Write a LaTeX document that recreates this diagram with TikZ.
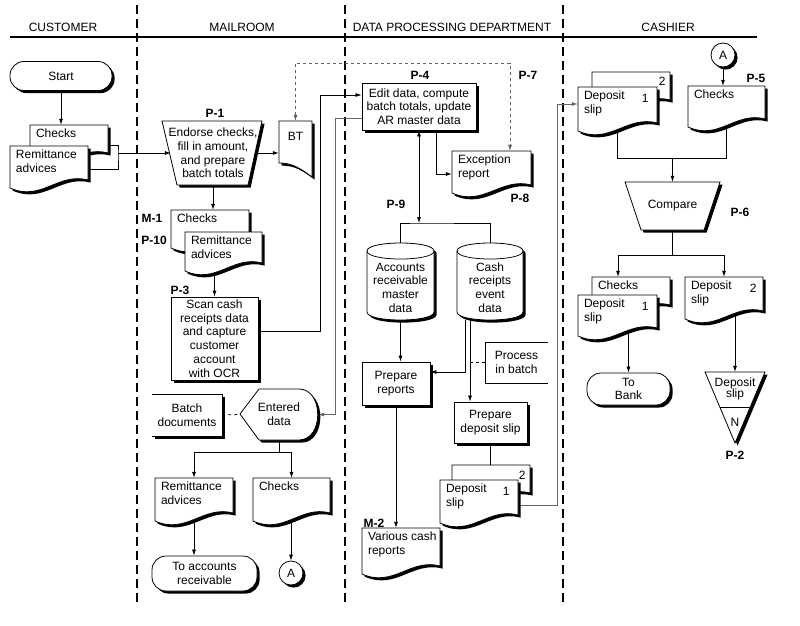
\documentclass[tikz,border=0pt]{standalone}
\usepackage{fontspec}
\setmainfont{Liberation Sans}
\usetikzlibrary{arrows.meta,shadows}
\pgfdeclarelayer{bg}
\pgfsetlayers{bg,main}
\newcommand{\chartfont}{\fontsize{12}{13.7}\selectfont}
\tikzset{
  flowbox/.style={draw, fill=white, line width=0.8pt, drop shadow={shadow xshift=2.6pt,shadow yshift=-2.6pt,fill=black,opacity=1}},
  procbox/.style={flowbox, inner sep=0pt, align=center},
  termbox/.style={procbox, rounded corners=14pt},
  spot/.style={inner sep=0pt, align=center},
  doctext/.style={anchor=north west, inner xsep=6pt, inner ysep=4pt, align=left},
  tag/.style={font=\chartfont\bfseries},
  lane/.style={line width=1.4pt, dash pattern=on 9pt off 5pt},
  arr/.style={line width=0.75pt, -{Latex[length=6pt,width=4pt]}},
  arrboth/.style={line width=0.75pt, {Latex[length=6pt,width=4pt]}-{Latex[length=6pt,width=4pt]}},
  link/.style={line width=0.75pt},
}
\newcommand{\flowdoc}[6]{%
  \draw[flowbox] (#2,#3) -- (#2+#4,#3) -- (#2+#4,#3+#5-12) .. controls (#2+0.62*#4,#3+#5-20) and (#2+0.4*#4,#3+#5+10) .. (#2,#3+#5-4) -- cycle;
  \node[spot, minimum width=#4, minimum height=#5] (#1) at (#2+0.5*#4,#3+0.5*#5) {};
  \node[doctext] (#1text) at (#1.north west) {#6};}
\newcommand{\flowdisk}[6]{%
  \draw[flowbox] (#2,#3+8) -- (#2,#3+#5-8) .. controls (#2,#3+#5+2.67) and (#2+#4,#3+#5+2.67) .. (#2+#4,#3+#5-8) -- (#2+#4,#3+8) .. controls (#2+#4,#3-2.67) and (#2,#3-2.67) .. (#2,#3+8) -- cycle;
  \draw[link] (#2,#3+8) .. controls (#2,#3+18.67) and (#2+#4,#3+18.67) .. (#2+#4,#3+8);
  \node[spot, minimum width=#4, minimum height=#5] (#1) at (#2+0.5*#4,#3+0.5*#5) {};
  \node[spot] (#1text) at ([yshift=-6pt]#1.center) {#6};}
\begin{document}
\begin{tikzpicture}[x=1pt, y=-1pt, font=\chartfont]
        \useasboundingbox (0,0) rectangle (800,626);
        \node (hcust) at (63,27) {CUSTOMER};
        \node (hmail) at (242,27) {MAILROOM};
        \node (hdata) at (452,27) {DATA PROCESSING DEPARTMENT};
        \node (hcash) at (668,27) {CASHIER};

        \node[termbox, minimum width=102, minimum height=29] (start) at (61,76) {Start};
        \flowdoc{custchk}{30}{125}{78}{40}{Checks}
        \flowdoc{custrem}{10}{146}{78}{46}{Remittance\\advices}

        \draw[flowbox] (162,121) -- (262,121) -- (248,185) -- (177,185) -- cycle;
        \node[spot, minimum width=100, minimum height=64] (p1) at (213,153) {Endorse checks,\\fill in amount,\\and prepare\\batch totals};
        \draw[flowbox] (279,121) -- (312,121) -- (312,177) .. controls (300,168) and (292,163) .. (279,163) -- cycle;
        \node[spot, minimum width=33, minimum height=56] (bt) at (295.5,149) {};
        \node (bttext) at (295.5,136) {BT};
        \flowdoc{mchk}{171}{210}{78}{42}{Checks}
        \flowdoc{mrem}{185}{232}{77}{43}{Remittance\\advices}
        \node[procbox, minimum width=87, minimum height=83] (p3) at (214.5,338.5) {Scan cash\\receipts data\\and capture\\customer\\account\\with OCR};
        \draw[flowbox] (152,394) -- (222,394) -- (222,436) -- (152,436);
        \node[spot, minimum width=70, minimum height=42] (batchnote) at (187,415) {Batch\\documents};
        \draw[flowbox] (240,414) -- (259,389) -- (299,389) .. controls (324,389) and (324,440) .. (299,440) -- (259,440) -- cycle;
        \node[spot, minimum width=78, minimum height=51] (ent) at (279,414.5) {Entered\\data};
        \flowdoc{remdoc}{155}{478}{78}{47}{Remittance\\advices}
        \flowdoc{chkdoc}{253}{478}{77}{47}{Checks}
        \node[termbox, minimum width=105, minimum height=35] (toar) at (204.5,573.5) {To accounts\\receivable};
        \node[flowbox, circle, minimum size=24, inner sep=0pt] (conA) at (291,573) {A};

        \node[procbox, minimum width=114, minimum height=47] (p4) at (419,106.5) {Edit data, compute\\batch totals, update\\AR master data};
        \flowdoc{exc}{452}{151}{79}{46}{Exception\\report}
        \flowdisk{ardb}{367}{243}{67}{77}{Accounts\\receivable\\master\\data}
        \flowdisk{crdb}{457}{243}{66}{77}{Cash\\receipts\\event\\data}
        \node[procbox, minimum width=68, minimum height=43] (prep) at (396,383.5) {Prepare\\reports};
        \draw[line width=0.8pt] (548,342) -- (485,342) -- (485,383) -- (548,383);
        \node[spot, minimum width=63, minimum height=41] (procnote) at (516.5,362.5) {Process\\in batch};
        \node[procbox, minimum width=73, minimum height=41] (dep) at (490.5,422.5) {Prepare\\deposit slip};
        \flowdoc{depback}{452}{465}{78}{40}{}
        \node (depbacknum) at ([xshift=-8pt,yshift=-11pt]depback.north east) {2};
        \flowdoc{depfront}{440}{480}{78}{47}{Deposit\\slip}
        \node (depfrontnum) at ([xshift=-12pt,yshift=-12pt]depfront.north east) {1};
        \flowdoc{various}{362}{528}{78}{50}{Various cash\\reports}

        \node[flowbox, circle, minimum size=24, inner sep=0pt] (conB) at (723,55) {A};
        \flowdoc{cashback}{592}{72}{78}{40}{}
        \node (cashbacknum) at ([xshift=-8pt,yshift=-10pt]cashback.north east) {2};
        \flowdoc{cashfront}{578}{87}{79}{48}{Deposit\\slip}
        \node (cashfrontnum) at ([xshift=-12pt,yshift=-12pt]cashfront.north east) {1};
        \flowdoc{cashchk}{688}{86}{77}{45}{Checks}
        \draw[flowbox] (625,182) -- (720,182) -- (704,230) -- (641,230) -- cycle;
        \node[spot, minimum width=95, minimum height=48] (cmp) at (672.5,206) {Compare};
        \flowdoc{bankback}{592}{277}{78}{40}{Checks}
        \flowdoc{bankfront}{578}{295}{79}{45}{Deposit\\slip}
        \node (bankfrontnum) at ([xshift=-12pt,yshift=-12pt]bankfront.north east) {1};
        \flowdoc{dep2}{685}{277}{78}{46}{Deposit\\slip}
        \node (dep2num) at ([xshift=-10pt,yshift=-12pt]dep2.north east) {2};
        \node[termbox, minimum width=83, minimum height=32] (tobank) at (628.5,389) {To\\Bank};
        \draw[flowbox] (705,372) -- (765,372) -- (735,443) -- cycle;
        \draw[line width=0.8pt] (720,407) -- (750,407);
        \node[spot, minimum width=60, minimum height=71] (file) at (735,407.5) {};
        \node[align=center] (filetext) at (735,389) {Deposit\\[-2pt]slip};
        \node (fileN) at (735,422) {N};

        \node[tag] (tagP1) at (215,113) {P-1};
        \node[tag] (tagM1) at (152,218) {M-1};
        \node[tag] (tagP10) at (154,240) {P-10};
        \node[tag] (tagP3) at (180,290) {P-3};
        \node[tag] (tagP4) at (420,75) {P-4};
        \node[tag] (tagP7) at (528,75) {P-7};
        \node[tag] (tagP8) at (520,198) {P-8};
        \node[tag] (tagP9) at (396,204) {P-9};
        \node[tag] (tagM2) at (374,523) {M-2};
        \node[tag] (tagP5) at (756,78) {P-5};
        \node[tag] (tagP6) at (740,212) {P-6};
        \node[tag] (tagP2) at (735,455) {P-2};

        \coordinate (custjoin) at (118,153);
        \coordinate (p7top) at (510,63);
        \coordinate (dpbus) at (320,95);
        \coordinate (erbus) at (335,118);
        \coordinate (dbbus) at (419,223);
        \coordinate (crlink) at (465,372);
        \coordinate (crdown) at (470,362.5);
        \coordinate (cashbus) at (557,104);
        \coordinate (entsplit) at (279,452);
        \coordinate (mergept) at (672.5,158);
        \coordinate (cmpsplit) at (672.5,255);

        \begin{pgfonlayer}{bg}
        \draw[line width=1.5pt] (10,37) -- (757,37);
        \draw[lane] (137,5) -- (137,606);
        \draw[lane] (345,5) -- (345,606);
        \draw[lane] (563,5) -- (563,606);
        \draw[arr] (start.south) -- (start.south |- custchk.north);
        \draw[link] (custchk.east) -| (custjoin) |- (custrem.east);
        \draw[arr] (custjoin) -- ([xshift=8pt]p1.west);
        \draw[arr] ([xshift=-7pt]p1.east) -- (bt.west |- p1.east);
        \draw[arrboth, dashed, gray!75!black] (bt.north) |- (p7top) -- (p7top |- exc.north);
        \draw[arr] (p1.south) -- (p1.south |- mchk.north);
        \draw[arr] (p3.north |- mrem.center) -- (p3.north);
        \draw[arr] ([yshift=7pt]p3.east) -| (dpbus) -- (dpbus -| p4.west);
        \draw[arr, gray!80!black] (erbus -| p4.west) -- (erbus) |- (ent.east);
        \draw[link, dashed] (batchnote.east) -- (ent.west);
        \draw[link] (ent.south) -- (entsplit);
        \draw[arr] (entsplit) -| (remdoc.north);
        \draw[arr] (entsplit) -| (chkdoc.north);
        \draw[arr] (remdoc.center) -- (remdoc.center |- toar.north);
        \draw[arr] (conA.north |- chkdoc.center) -- (conA.north);
        \draw[arr] ([xshift=17pt]p4.south) |- (exc.west);
        \draw[arrboth] (p4.south) -- (dbbus);
        \draw[link] (ardb.north) |- (dbbus) -| (crdb.north);
        \draw[arr] (ardb.south) -- (ardb.south |- prep.north);
        \draw[arr] (crlink |- crdb.south) -- (crlink) -- (crlink -| prep.east);
        \draw[arr] (crdown |- crdb.south) -- (crdown |- dep.north);
        \draw[link, dashed] (procnote.west) -- (crdown);
        \draw[link] (dep.south) -- (dep.south |- depback.north);
        \draw[arr, gray!80!black] ([yshift=-2pt]depfront.east) -| (cashbus) -- (cashbus -| cashfront.west);
        \draw[arr] (prep.south) -- (prep.south |- various.north);
        \draw[arr] (conB.south) -- (conB.south |- cashchk.north);
        \draw[link] (cashfront.center) |- (mergept);
        \draw[link] (cashchk.center) |- (mergept);
        \draw[arr] (mergept) -- (mergept |- cmp.north);
        \draw[link] (cmp.south) -- (cmpsplit);
        \draw[arr] (cmpsplit) -| ([xshift=-13pt]bankback.north);
        \draw[arr] (cmpsplit) -| (dep2.north);
        \draw[arr] (tobank.north |- bankfront.center) -- (tobank.north);
        \draw[arr] (file.north |- dep2.center) -- (file.north);
        \end{pgfonlayer}
\end{tikzpicture}
\end{document}
